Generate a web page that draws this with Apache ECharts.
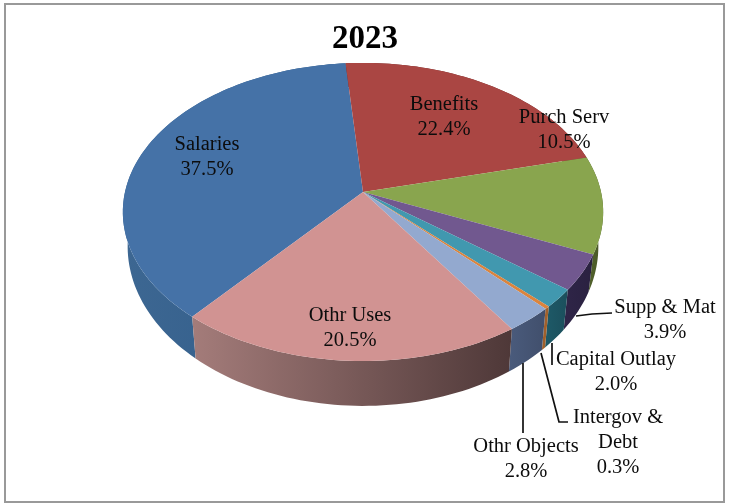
<!DOCTYPE html>
<html>
<head>
<meta charset="utf-8">
<style>html,body{margin:0;padding:0;background:#fff}#chart{width:729px;height:504px}</style>
<script src="https://cdn.jsdelivr.net/npm/echarts@6/dist/echarts.min.js"></script>
</head>
<body>
<div id="chart"></div>
<script>
// Budget shares for 2023, clockwise from the Salaries slice.
const categories = ['Salaries', 'Benefits', 'Purch Serv', 'Supp & Mat', 'Capital Outlay', 'Intergov &\nDebt', 'Othr Objects', 'Othr Uses'];
const shares = [37.5, 22.4, 10.5, 3.9, 2.0, 0.3, 2.8, 20.5];
const titleText = '2023';

const topColors = ['#4572a7', '#aa4643', '#89a54e', '#71588f', '#4198af', '#db843d', '#93a9cf', '#d19392'];
const wallColors = [
  ['#3d6792', '#2e5a88'], ['#6d2c2a', '#6d2c2a'], ['#55662f', '#485726'], ['#2f2548', '#2a2140'],
  ['#1e5a68', '#1b4f5c'], ['#a0602c', '#a0602c'], ['#4a5b7c', '#414f6c'], ['#a47c7a', '#4e3838']
];
// Label centres and optional leader-line paths, in pixels.
const labelCentres = [[207, 157], [444, 117], [564, 130], [665, 320], [616, 372], [618, 443], [526, 459], [350, 328]];
const leaders = [
  [[576, 316], [592, 314], [612, 313]],
  [[552, 343], [552, 365]],
  [[541, 353], [559, 422], [568, 422]],
  [[523, 363], [523, 433]]
];

// Perspective view of the pie: a circle through a one-point projection.
const view = { cx: 363, cy: 192, rx: 238, ry: 146.4, k: 0.134, wallShift: 33, wallScaleX: 0.98, wallScaleY: 1.07 };
const firstSliceDeg = -139.9;

function project(deg) {
  const a = deg * Math.PI / 180, u = Math.sin(a), v = -Math.cos(a), w = 1 - view.k * v;
  return [view.rx * u / w, view.ry * v / w];
}
const topPoint = deg => { const p = project(deg); return [view.cx + p[0], view.cy + p[1]]; };
const basePoint = deg => {
  const p = project(deg);
  return [view.cx + view.wallScaleX * p[0], view.cy + view.wallShift + view.wallScaleY * p[1]];
};

const total = shares.reduce((s, v) => s + v, 0);
const sliceRange = i => {
  const before = shares.slice(0, i).reduce((s, v) => s + v, 0);
  return [firstSliceDeg + before / total * 360, firstSliceDeg + (before + shares[i]) / total * 360];
};
const arc = (range, fn) => {
  const n = Math.max(2, Math.ceil((range[1] - range[0]) / 1.5));
  return Array.from({ length: n + 1 }, (_, j) => fn(range[0] + (range[1] - range[0]) * j / n));
};

const chart = echarts.init(document.getElementById('chart'), null, { renderer: 'canvas' });
const dataRows = shares.map(v => [v]);

chart.setOption({
  animation: false,
  backgroundColor: '#ffffff',
  title: {
    text: titleText, left: 327, top: 18,
    textStyle: { fontFamily: 'Liberation Serif', fontSize: 33, fontWeight: 'bold', color: '#000' }
  },
  graphic: [{
    type: 'rect', silent: true, z: -1,
    shape: { x: 5, y: 4, width: 719, height: 498 },
    style: { fill: 'none', stroke: '#999999', lineWidth: 2 }
  }].concat(leaders.map(points => ({
    type: 'polyline', silent: true, z: 20, shape: { points },
    style: { fill: 'none', stroke: '#111', lineWidth: 1.7 }
  }))),
  series: [
    {
      // Outer wall of each slice, drawn below the top faces.
      type: 'custom', coordinateSystem: 'none', z: 2, data: dataRows, silent: true,
      renderItem(params) {
        const i = params.dataIndex, range = sliceRange(i);
        const outline = arc(range, topPoint).concat(arc(range, basePoint).reverse());
        const stops = wallColors[i];
        return {
          type: 'polygon', shape: { points: outline },
          style: {
            fill: {
              type: 'linear', x: 0, y: 0, x2: 1, y2: 0,
              colorStops: [{ offset: 0, color: stops[0] }, { offset: 1, color: stops[1] }]
            }
          }
        };
      }
    },
    {
      // Top faces.
      type: 'custom', coordinateSystem: 'none', z: 3, data: dataRows, silent: true,
      renderItem(params) {
        const i = params.dataIndex;
        return {
          type: 'polygon',
          shape: { points: [[view.cx, view.cy]].concat(arc(sliceRange(i), topPoint)) },
          style: { fill: topColors[i] }
        };
      }
    },
    {
      // Category name and share for each slice.
      type: 'custom', coordinateSystem: 'none', z: 10, data: dataRows, silent: true,
      renderItem(params, api) {
        const i = params.dataIndex, c = labelCentres[i];
        return {
          type: 'text',
          style: {
            x: c[0], y: c[1], text: categories[i] + '\n' + api.value(0).toFixed(1) + '%',
            align: 'center', verticalAlign: 'middle', lineHeight: 25,
            font: '20.5px "Liberation Serif"', fill: '#0c0c0c'
          }
        };
      }
    }
  ]
});
</script>
</body>
</html>
